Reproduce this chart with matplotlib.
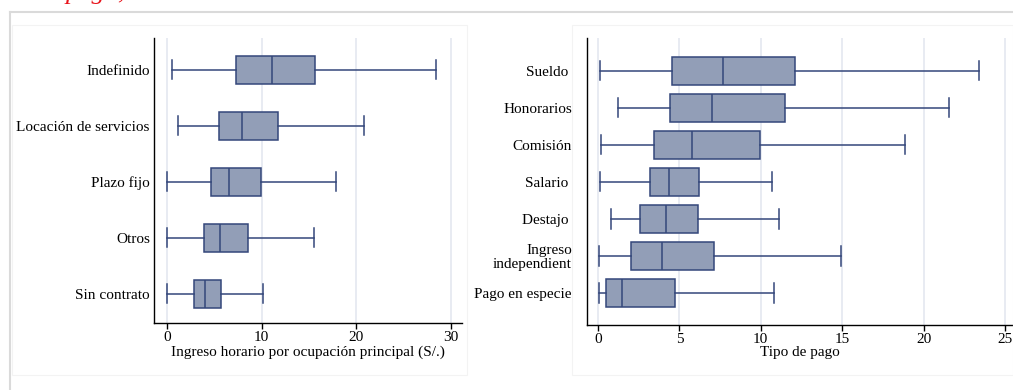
import matplotlib
matplotlib.use("Agg")
import matplotlib.pyplot as plt
from matplotlib.lines import Line2D
from matplotlib.patches import Rectangle

plt.rcParams["font.family"] = ["Liberation Serif", "DejaVu Serif"]
plt.rcParams["font.size"] = 11

# ingreso horario por tipo de contrato
contrato = ["Indefinido", "Locación de servicios", "Plazo fijo", "Otros", "Sin contrato"]
contrato_lo = [0.5, 1.2, 0.0, 0.0, 0.0]
contrato_q1 = [7.3, 5.5, 4.6, 3.9, 2.8]
contrato_med = [11.1, 7.9, 6.6, 5.6, 4.05]
contrato_q3 = [15.7, 11.7, 9.9, 8.6, 5.7]
contrato_hi = [28.4, 20.8, 17.85, 15.5, 10.1]
contrato_ticks = [0, 10, 20, 30]

# ingreso horario por tipo de pago
pago = ["Sueldo ", "Honorarios", "Comisión", "Salario ", "Destajo ",
        "Ingreso\nindependient", "Pago en especie"]
pago_lo = [0.12, 1.2, 0.2, 0.15, 0.8, 0.04, 0.06]
pago_q1 = [4.55, 4.4, 3.45, 3.2, 2.55, 2.0, 0.5]
pago_med = [7.65, 7.0, 5.8, 4.35, 4.2, 3.95, 1.45]
pago_q3 = [12.1, 11.5, 9.95, 6.2, 6.15, 7.15, 4.7]
pago_hi = [23.4, 21.55, 18.85, 10.7, 11.1, 14.9, 10.8]
pago_ticks = [0, 5, 10, 15, 20, 25]

FACE = "#929eb7"
EDGE = "#34477a"
GRID = "#e4e8f0"

W, H = 1013, 390
fig = plt.figure(figsize=(W / 100, H / 100), dpi=100)


def px(x0, y0, x1, y1):
    # pixel box (top-left origin) -> figure fraction rect
    return [x0 / W, 1 - y1 / H, (x1 - x0) / W, (y1 - y0) / H]


def boxes(ax, labels, lo, q1, med, q3, hi, width, capw):
    stats = [dict(label=l, whislo=a, q1=b, med=c, q3=d, whishi=e)
             for l, a, b, c, d, e in zip(labels, lo, q1, med, q3, hi)]
    pos = list(range(1, len(stats) + 1))
    ax.bxp(stats, positions=pos, widths=width, vert=False, patch_artist=True,
           showfliers=False, capwidths=capw,
           boxprops=dict(facecolor=FACE, edgecolor=EDGE, linewidth=1.1),
           medianprops=dict(color=EDGE, linewidth=1.1),
           whiskerprops=dict(color=EDGE, linewidth=1.1),
           capprops=dict(color=EDGE, linewidth=1.1))
    ax.set_yticks(pos)
    ax.set_yticklabels(labels)
    for s in ("top", "right"):
        ax.spines[s].set_visible(False)
    for s in ("left", "bottom"):
        ax.spines[s].set_linewidth(1.0)
        ax.spines[s].set_color("black")
    ax.xaxis.grid(True, color=GRID, linewidth=1.2)
    ax.set_axisbelow(True)
    ax.tick_params(axis="y", length=0)
    ax.tick_params(axis="x", length=4, width=1.0, pad=2)


# left panel
ax1 = fig.add_axes(px(154, 38, 462, 323))
boxes(ax1, contrato, contrato_lo, contrato_q1, contrato_med, contrato_q3,
      contrato_hi, 0.5, 0.34)
ax1.set_xlim(-1.38, 31.2)
ax1.set_ylim(len(contrato) + 0.52, 0.43)
ax1.set_xticks(contrato_ticks)
ax1.tick_params(axis="y", pad=3)
ax1.set_xlabel("Ingreso horario por ocupación principal (S/.)", labelpad=0.5)

# right panel
ax2 = fig.add_axes(px(586.5, 38, 1013, 325))
boxes(ax2, pago, pago_lo, pago_q1, pago_med, pago_q3, pago_hi, 0.76, 0.53)
ax2.set_xlim(-0.71, 25.5)
ax2.set_ylim(len(pago) + 0.87, 0.12)
ax2.set_xticks(pago_ticks)
ax2.tick_params(axis="y", pad=10.5)
for t in ax2.get_yticklabels():
    t.set_linespacing(1.1)
ax2.set_xlabel("Tipo de pago", labelpad=0)

# page frame and faint panel borders
fig.add_artist(Line2D([10 / W, 1], [1 - 12 / H, 1 - 12 / H], color="#dadada",
                      linewidth=1.5, transform=fig.transFigure))
fig.add_artist(Line2D([10 / W, 10 / W], [0, 1 - 12 / H], color="#dadada",
                      linewidth=1.5, transform=fig.transFigure))
for x0, x1 in ((12, 467), (572, 1013)):
    r = px(x0, 25, x1, 375)
    fig.add_artist(Rectangle((r[0], r[1]), r[2], r[3], fill=False,
                             edgecolor="#f3f3f3", linewidth=0.8,
                             transform=fig.transFigure))

# caption line running off the top of the page
fig.text(66 / W, 1 + 1.5 / H, "pago,", color="#e8141b", fontstyle="italic",
         fontsize=19, va="baseline", ha="left")

fig.savefig("out.png", dpi=100)
